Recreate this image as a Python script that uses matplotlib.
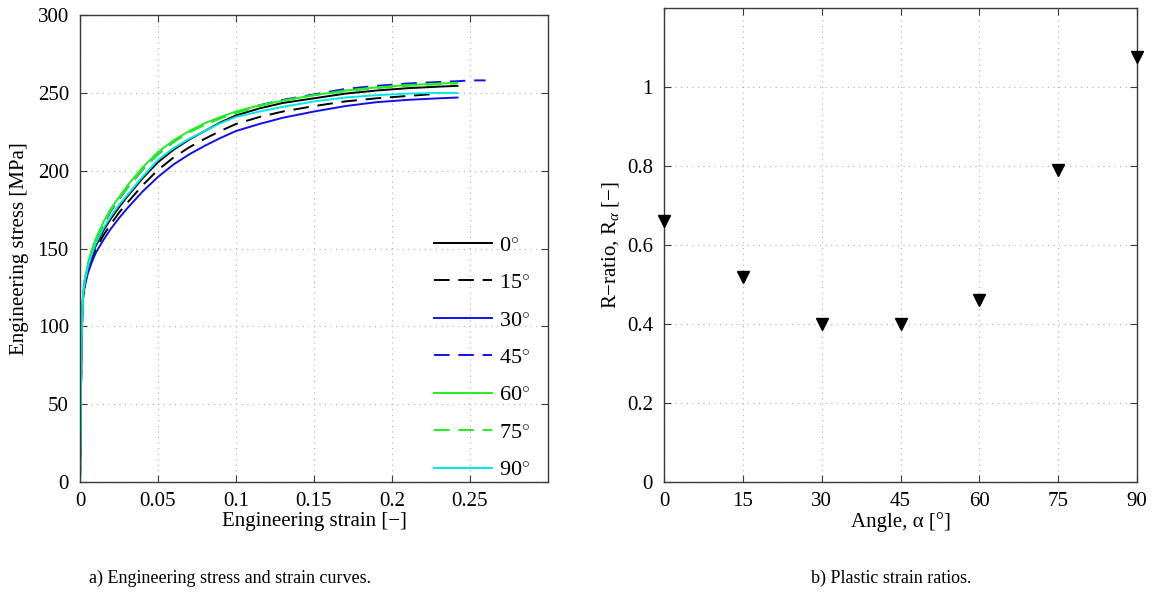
import matplotlib
matplotlib.use("Agg")
import matplotlib.pyplot as plt

plt.rcParams['font.family'] = ['Liberation Serif', 'DejaVu Serif']
plt.rcParams['mathtext.fontset'] = 'custom'
plt.rcParams['mathtext.rm'] = 'Liberation Serif'
plt.rcParams['mathtext.it'] = 'Liberation Serif:italic'

# ---- tensile test curves (engineering strain [-], engineering stress [MPa]) ----
strain_grid = [0, 0.001, 0.002, 0.003, 0.005, 0.0075, 0.01, 0.015, 0.02, 0.025,
               0.03, 0.04, 0.05, 0.06, 0.07, 0.08, 0.09, 0.1, 0.115, 0.13,
               0.15, 0.17, 0.19, 0.21, 0.23, 0.242]

stress_0 = [0, 94, 120, 127.5, 137, 145, 151.5, 161.5, 169.5, 176.5,
            183, 195, 205.5, 213.5, 220, 225.5, 231, 235.5, 240, 243.5,
            246.5, 249.5, 251.5, 253, 254, 254.5]
stress_15 = [0, 94, 119, 126.5, 135.5, 143, 149, 158.5, 166, 173,
             179, 190.5, 200.5, 208.5, 215, 220.5, 225.5, 230, 234.5, 238,
             241.5, 244.5, 246.5, 248, 249.5]
stress_30 = [0, 93, 118, 125.5, 134, 141, 147, 155.5, 163, 169.5,
             175.5, 186.5, 196, 204, 210.5, 216, 221, 225.5, 230, 234,
             238, 241.5, 244, 245.5, 246.5, 247]
stress_45 = [0, 95, 121, 129, 139, 147.5, 154.5, 165.5, 174.5, 181.5,
             188.5, 200.5, 210.5, 218.5, 225, 230, 234, 237.5, 242, 245.5,
             249, 252.5, 254.5, 256, 257, 257.5]
stress_60 = [0, 95, 122, 130, 140, 149, 156, 167, 176, 183,
             190, 202, 212, 219.5, 225.5, 230.5, 234.5, 238, 242, 245,
             248.5, 251.5, 253.5, 255, 256, 256.5]
stress_75 = [0, 95, 121.5, 129.5, 139.5, 148, 155.5, 166, 175, 182,
             188.5, 200.5, 210.5, 218.5, 224.5, 229.5, 233.5, 237, 241.5, 245,
             248.5, 251, 253, 254.5, 255.5, 256]
stress_90 = [0, 95, 121, 128.5, 138, 146, 153, 163, 171, 178,
             184, 196, 207, 214.5, 220.5, 225.5, 230.5, 234.5, 238, 241,
             244.5, 247, 248.5, 249.5, 250, 250]

# the 45 degree specimen was strained further than the others
strain_45_tail = [0.25, 0.26]
stress_45_tail = [258, 258]

# ---- plastic strain ratios ----
angles = [0, 15, 30, 45, 60, 75, 90]
r_ratio = [0.66, 0.52, 0.40, 0.40, 0.46, 0.79, 1.075]

fig = plt.figure(figsize=(11.56, 5.99), dpi=100)
ax1 = fig.add_axes([0.0692, 0.1953, 0.4048, 0.7796])
ax2 = fig.add_axes([0.5744, 0.1953, 0.4092, 0.7913])

spine_col = '#3a3a3a'
grid_kw = dict(color='#b0b0b0', linestyle=(0, (1, 4)), linewidth=0.8)
dash = (0, (8, 4.5))

series = [
    ("0$^{\\circ}$", strain_grid, stress_0, 'black', '-'),
    ("15$^{\\circ}$", strain_grid[:len(stress_15)], stress_15, 'black', dash),
    ("30$^{\\circ}$", strain_grid, stress_30, '#1010ee', '-'),
    ("45$^{\\circ}$", strain_grid + strain_45_tail, stress_45 + stress_45_tail,
     '#1010ee', dash),
    ("60$^{\\circ}$", strain_grid, stress_60, '#22ee22', '-'),
    ("75$^{\\circ}$", strain_grid, stress_75, '#22ee22', dash),
    ("90$^{\\circ}$", strain_grid, stress_90, '#00e8e8', '-'),
]
for label, x, y, c, ls in series:
    ax1.plot(x, y, color=c, linestyle=ls, linewidth=1.4, label=label)

ax1.set_xlim(0, 0.3)
ax1.set_ylim(0, 300)
ax1.set_xticks([0, 0.05, 0.1, 0.15, 0.2, 0.25])
ax1.set_xticklabels(['0', '0.05', '0.1', '0.15', '0.2', '0.25'])
ax1.set_yticks([0, 50, 100, 150, 200, 250, 300])
ax1.set_xlabel('Engineering strain [\u2212]', fontsize=15, labelpad=1)
ax1.set_ylabel('Engineering stress [MPa]', fontsize=15, labelpad=6)
leg = ax1.legend(loc='lower right', bbox_to_anchor=(0.99, -0.025), frameon=False,
                 fontsize=16, handlelength=2.6, labelspacing=0.76,
                 handletextpad=0.3, borderaxespad=0.2)

ax2.plot(angles, r_ratio, linestyle='none', marker='v', markersize=9,
         color='black', clip_on=False, zorder=5)
ax2.set_xlim(0, 90)
ax2.set_ylim(0, 1.2)
ax2.set_xticks(angles)
ax2.set_yticks([0, 0.2, 0.4, 0.6, 0.8, 1.0])
ax2.set_yticklabels(['0', '0.2', '0.4', '0.6', '0.8', '1'])
ax2.set_xlabel('Angle, \u03b1 [\u00b0]', fontsize=15, labelpad=1)
ax2.set_ylabel('R\u2212ratio, R$_{\\alpha}$ [\u2212]', fontsize=15, labelpad=4)

for ax in (ax1, ax2):
    ax.grid(True, **grid_kw)
    ax.set_axisbelow(True)
    ax.tick_params(direction='in', top=True, right=True, length=5,
                   width=0.8, color=spine_col, labelsize=15)
    ax.tick_params(axis='x', pad=7)
    ax.tick_params(axis='y', pad=8)
    for s in ax.spines.values():
        s.set_color(spine_col)
        s.set_linewidth(1.0)

fig.text(0.199, 0.035, 'a) Engineering stress and strain curves.',
         ha='center', va='center', fontsize=13)
fig.text(0.771, 0.035, 'b) Plastic strain ratios.',
         ha='center', va='center', fontsize=13)

fig.savefig('out.png', dpi=100)
